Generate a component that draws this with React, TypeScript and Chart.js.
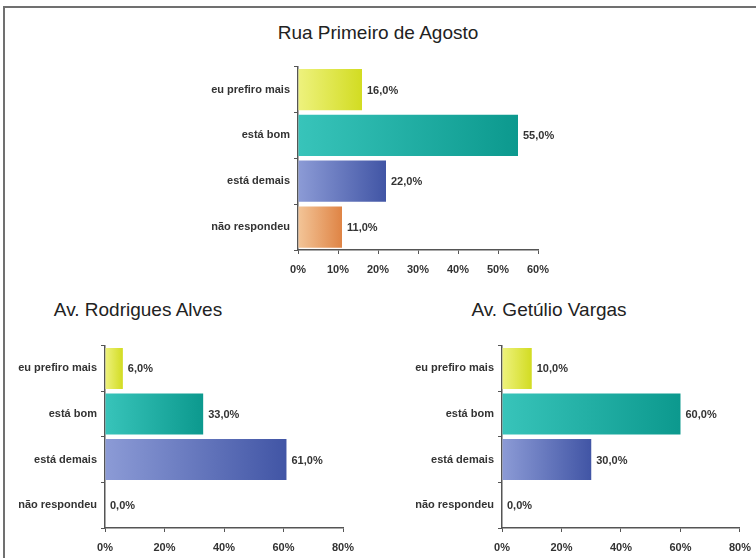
import React, { useEffect, useRef } from "react";
import { Chart, registerables } from "chart.js";

Chart.register(...registerables);

const categories = ["eu prefiro mais", "está bom", "está demais", "não respondeu"];
const ruaPrimeiroValues = [16, 55, 22, 11];
const rodriguesValues = [6, 33, 61, 0];
const getulioValues = [10, 60, 30, 0];
const topTicksMax = 60;
const topTicksStep = 10;
const bottomTicksMax = 80;
const bottomTicksStep = 20;

const gradientStops: [string, string][] = [
  ["#eef27e", "#d2dc22"],
  ["#38c4ba", "#0c998e"],
  ["#8c9bd6", "#4155a5"],
  ["#f3c598", "#df8445"],
];

const FONT = "'Liberation Sans', Arial, sans-serif";

const valueLabelPlugin = {
  id: "valueLabels",
  afterDatasetsDraw(chart: any) {
    const ctx = chart.ctx;
    const meta = chart.getDatasetMeta(0);
    const data = chart.data.datasets[0].data as number[];
    ctx.save();
    ctx.font = `bold 11px ${FONT}`;
    ctx.fillStyle = "#333";
    ctx.textBaseline = "middle";
    ctx.textAlign = "left";
    meta.data.forEach((bar: any, i: number) => {
      const v = data[i];
      ctx.fillText(v.toFixed(1).replace(".", ",") + "%", bar.x + 5, bar.y + 1);
    });
    ctx.restore();
  },
};

type Props = {
  values: number[];
  max: number;
  step: number;
  yWidth: number;
  padRight: number;
  style: React.CSSProperties;
  width: number;
  height: number;
};

function BarChart({ values, max, step, yWidth, padRight, style, width, height }: Props) {
  const ref = useRef<HTMLCanvasElement>(null);
  useEffect(() => {
    if (!ref.current) return;
    const chart = new Chart(ref.current, {
      type: "bar",
      data: {
        labels: categories,
        datasets: [
          {
            data: values,
            barPercentage: 0.9,
            categoryPercentage: 1,
            borderWidth: 0,
            backgroundColor: (c: any) => {
              const ch = c.chart;
              const i = c.dataIndex;
              const stops = gradientStops[i % gradientStops.length];
              if (!ch.chartArea || !ch.scales.x) return stops[1];
              const x0 = ch.scales.x.getPixelForValue(0);
              let x1 = ch.scales.x.getPixelForValue(values[i]);
              if (x1 - x0 < 2) x1 = x0 + 2;
              const g = ch.ctx.createLinearGradient(x0, 0, x1, 0);
              g.addColorStop(0, stops[0]);
              g.addColorStop(1, stops[1]);
              return g;
            },
          },
        ],
      },
      options: {
        indexAxis: "y",
        animation: false,
        responsive: false,
        maintainAspectRatio: false,
        layout: { padding: { top: 10, right: padRight, left: 0, bottom: 0 } },
        plugins: { legend: { display: false }, tooltip: { enabled: false } },
        scales: {
          x: {
            min: 0,
            max,
            afterFit: (s: any) => {
              s.height = 30;
            },
            ticks: {
              stepSize: step,
              maxRotation: 0,
              callback: (v: any) => v + "%",
              font: { family: FONT, size: 11, weight: "bold" },
              color: "#333",
              padding: 9,
            },
            grid: { drawOnChartArea: false, drawTicks: true, tickLength: 4, color: "#555" },
            border: { display: true, color: "#555", width: 1.5 },
          },
          y: {
            afterFit: (s: any) => {
              s.width = yWidth;
            },
            ticks: {
              font: { family: FONT, size: 11, weight: "bold" },
              color: "#333",
              padding: 4,
            },
            grid: { drawOnChartArea: false, drawTicks: true, tickLength: 4, color: "#555", offset: true },
            border: { display: true, color: "#555", width: 1.5 },
          },
        },
      },
      plugins: [valueLabelPlugin],
    } as any);
    return () => chart.destroy();
  }, []);
  return (
    <canvas
      ref={ref}
      width={width}
      height={height}
      style={{ position: "absolute", width, height, ...style }}
    />
  );
}

const titleStyle: React.CSSProperties = {
  position: "absolute",
  fontFamily: FONT,
  fontSize: 19,
  color: "#222",
  whiteSpace: "nowrap",
  transform: "translateX(-50%)",
  lineHeight: "22px",
};

export default function App() {
  useEffect(() => {
    document.body.style.margin = "0";
  }, []);
  return (
    <div
      style={{
        position: "relative",
        width: 756,
        height: 558,
        overflow: "hidden",
        background: "#fff",
      }}
    >
      <div
        style={{
          position: "absolute",
          left: 3,
          top: 6,
          width: 760,
          height: 560,
          borderLeft: "2px solid #707070",
          borderTop: "2px solid #707070",
        }}
      />
      <div style={{ ...titleStyle, left: 378, top: 22 }}>Rua Primeiro de Agosto</div>
      <div style={{ ...titleStyle, left: 138, top: 299 }}>Av. Rodrigues Alves</div>
      <div style={{ ...titleStyle, left: 549, top: 299 }}>Av. Getúlio Vargas</div>
      <BarChart
        values={ruaPrimeiroValues}
        max={topTicksMax}
        step={topTicksStep}
        yWidth={148}
        padRight={22}
        width={410}
        height={224}
        style={{ left: 150, top: 56 }}
      />
      <BarChart
        values={rodriguesValues}
        max={bottomTicksMax}
        step={bottomTicksStep}
        yWidth={105}
        padRight={27}
        width={370}
        height={223}
        style={{ left: 0, top: 335 }}
      />
      <BarChart
        values={getulioValues}
        max={bottomTicksMax}
        step={bottomTicksStep}
        yWidth={107}
        padRight={15}
        width={365}
        height={223}
        style={{ left: 395, top: 335 }}
      />
    </div>
  );
}
